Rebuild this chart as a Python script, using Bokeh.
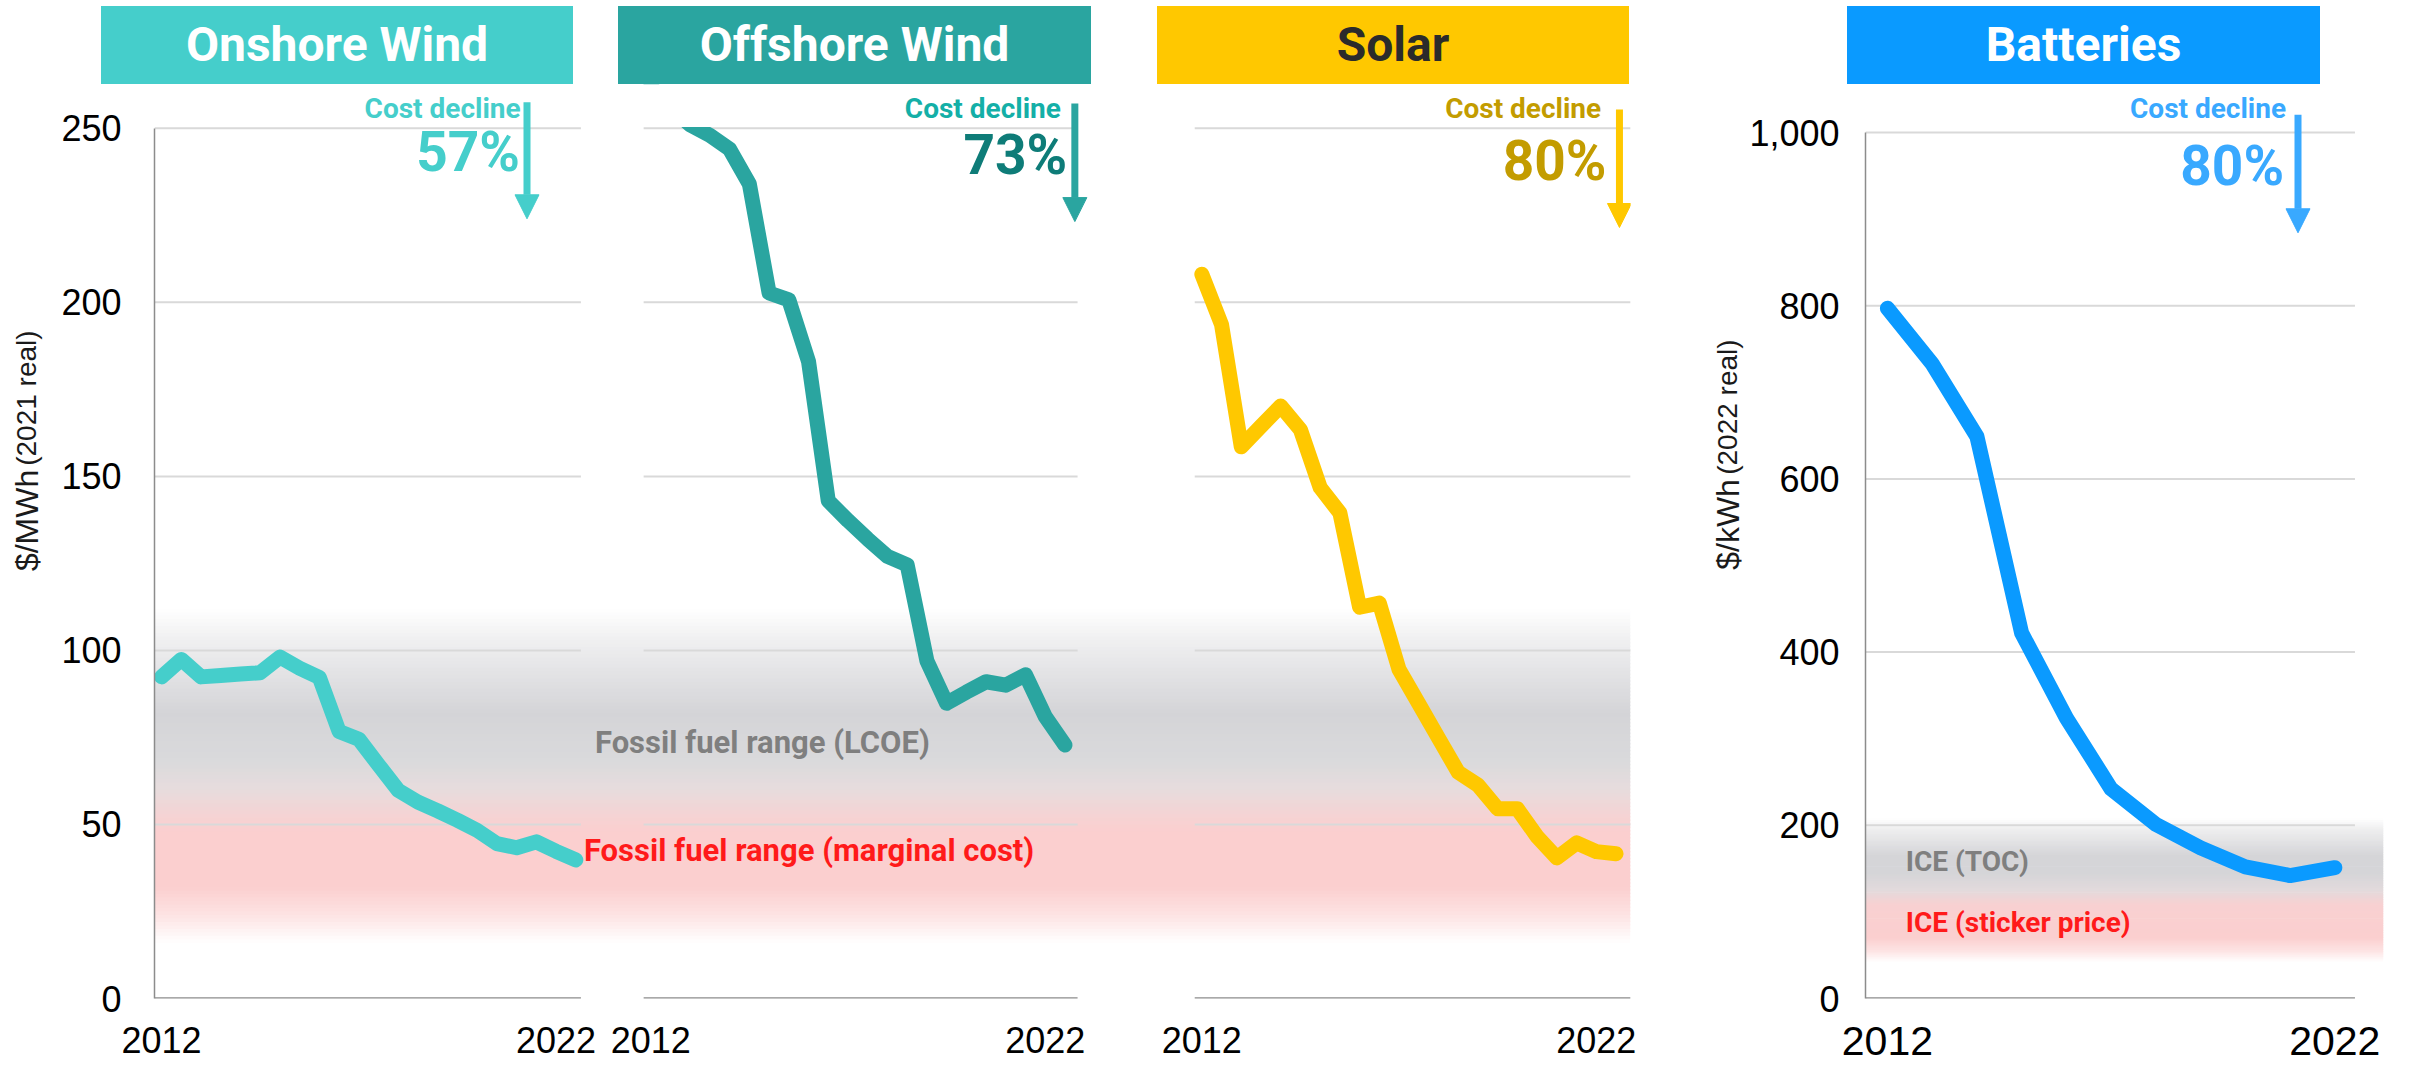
import numpy as np
from bokeh.plotting import figure
from bokeh.models import Label, Arrow, NormalHead, FixedTicker, NumeralTickFormatter, Div, Range1d
from bokeh.layouts import column, row
from bokeh.embed import file_html
from bokeh.resources import INLINE

# ---------------- data ----------------
periods = [2012.0, 2012.5, 2013.0, 2013.5, 2014.0, 2014.5, 2015.0, 2015.5, 2016.0, 2016.5,
           2017.0, 2017.5, 2018.0, 2018.5, 2019.0, 2019.5, 2020.0, 2020.5, 2021.0, 2021.5,
           2022.0, 2022.5]
onshore = [92.4, 97.4, 92.4, 92.8, 93.2, 93.6, 98.1, 94.9, 92.2, 76.7, 74.5, 67.1,
           59.8, 56.4, 53.9, 51.2, 48.3, 44.5, 43.3, 45.0, 42.3, 39.8]
offshore = [262.0, 256.0, 251.0, 248.0, 244.0, 234.0, 202.7, 200.7, 183.0, 143.0, 137.3, 132.0,
            127.0, 124.6, 97.0, 84.8, 88.0, 91.0, 90.0, 93.0, 81.0, 72.8]
solar = [208.1, 193.6, 158.5, 164.4, 170.2, 163.4, 146.8, 139.5, 112.4, 113.6, 94.5, 84.7,
         74.8, 65.0, 61.3, 54.5, 54.5, 46.5, 40.4, 44.7, 42.2, 41.6]
battery_years = [2012, 2013, 2014, 2015, 2016, 2017, 2018, 2019, 2020, 2021, 2022]
batteries = [797, 733, 649, 422, 324, 242, 201, 174, 152, 142, 151]

panel_names = ["Onshore Wind", "Offshore Wind", "Solar", "Batteries"]
cost_declines = ["57%", "73%", "80%", "80%"]
lcoe_ticks = [0, 50, 100, 150, 200, 250]
battery_ticks = [0, 200, 400, 600, 800, 1000]
x_tick_years = [2012, 2022]

# ---------------- styles ----------------
ON, OFF, SOL, BAT = "#45CECB", "#2AA5A0", "#FFC800", "#0A9AFF"
GRID = "#d9d9d9"
BASE = "#8c8c8c"
TICKFONT = "Liberation Sans"
ANNFONT = "Roboto"
LW = 15
TOP = 84                 # figures start right under the title boxes
FIG_H = 1066 - TOP
LCOE_UPP = 1 / 3.496     # data units per pixel, LCOE panels
BAT_UPP = 1 / 0.866      # data units per pixel, battery panel


def hex2rgb(h):
    return tuple(int(h[i:i + 2], 16) for i in (1, 3, 5))


def add_band(p, stops, left, right, step):
    stops = sorted(stops)
    xs = [s[0] for s in stops]
    rgb = np.array([hex2rgb(s[1]) for s in stops], dtype=float)
    bottoms = np.arange(xs[0], xs[-1], step)
    mids = bottoms + step / 2
    cols = []
    for m in mids:
        c = [int(round(np.interp(m, xs, rgb[:, k]))) for k in range(3)]
        cols.append("#%02x%02x%02x" % tuple(c))
    tops = np.minimum(bottoms + step * 1.4, xs[-1])
    p.quad(left=left, right=right, bottom=bottoms, top=tops, fill_color=cols,
           line_color=None)


def style_yaxis(p, ticks, font_size, standoff):
    ax = p.yaxis[0]
    ax.ticker = FixedTicker(ticks=ticks)
    ax.bounds = (ticks[0], ticks[-1])
    ax.major_tick_in = 0
    ax.major_tick_out = 0
    ax.minor_tick_in = 0
    ax.minor_tick_out = 0
    ax.major_tick_line_color = None
    ax.minor_tick_line_color = None
    ax.major_label_standoff = standoff
    ax.major_label_text_font = TICKFONT
    ax.major_label_text_font_size = font_size
    ax.major_label_text_color = "black"
    ax.axis_line_color = BASE
    ax.axis_line_width = 1.5


def style_xaxis(p, ticks, overrides, font_size, standoff):
    ax = p.xaxis[0]
    ax.ticker = FixedTicker(ticks=ticks)
    ax.major_label_overrides = overrides
    ax.axis_line_color = None
    ax.major_tick_line_color = None
    ax.minor_tick_line_color = None
    ax.major_tick_in = 0
    ax.major_tick_out = 0
    ax.minor_tick_in = 0
    ax.minor_tick_out = 0
    ax.major_label_standoff = standoff
    ax.major_label_text_font = TICKFONT
    ax.major_label_text_font_size = font_size
    ax.major_label_text_color = "black"


def lbl(p, x, y, text, color, size, align="left", bold=True, font=ANNFONT, angle=0,
        baseline="alphabetic", upp=None):
    # upp: data units per pixel; used to lift the text so its baseline sits at y
    if upp is not None:
        y = y + 0.33 * size * upp
    p.add_layout(Label(x=x, y=y, text=text, text_color=color, text_font=font,
                       text_font_size="%dpx" % size,
                       text_font_style="bold" if bold else "normal",
                       text_align=align, text_baseline=baseline, angle=angle,
                       angle_units="deg"))


def cost_arrow(p, x, y0, y1, color):
    p.add_layout(Arrow(end=NormalHead(size=24, fill_color=color, line_color=color, line_width=1),
                       x_start=x, y_start=y0, x_end=x, y_end=y1,
                       line_color=color, line_width=7))


def title_fig(width, x0, x1):
    f = figure(width=width, height=FIG_H, x_range=Range1d(x0, x1), y_range=Range1d(1066, TOP),
               output_backend="svg", toolbar_location=None, x_axis_location=None,
               y_axis_location=None, min_border=0, outline_line_color=None)
    f.xgrid.visible = False
    f.ygrid.visible = False
    return f


def vtitle(f, x, y_bottom, unit, note):
    # rotated two-part axis title: larger unit, smaller note, reading bottom to top
    unit_len = {"$/MWh": 3.167, "$/kWh": 2.834}[unit] * 32
    note_len = 4.835 * 28
    lbl(f, x, y_bottom - unit_len / 2, unit, "#1a1a1a", 32, align="center", bold=False,
        font=TICKFONT, angle=90, baseline="middle")
    lbl(f, x, y_bottom - unit_len - 13 - note_len / 2, note, "#1a1a1a", 28, align="center",
        bold=False, font=TICKFONT, angle=90, baseline="middle")


# ---------------- y-axis title for the LCOE panels ----------------
t1 = title_fig(58, 0, 58)
vtitle(t1, 26, 603.0, "$/MWh", "(2021 real)")

# ---------------- LCOE figure (three panels) ----------------
X0 = 2011.82
X1 = 2049.237
offsets = [0.0, 12.4, 26.37]
panel_len = [10.81, 11.0, 11.05]
YTOP = 250 + (128 - TOP) / 3.496
p = figure(width=1642, height=FIG_H, x_range=Range1d(X0, X1), y_range=Range1d(0, YTOP),
           output_backend="svg", toolbar_location=None, x_axis_location="below",
           y_axis_location="left", min_border_left=94, min_border_right=70,
           min_border_top=0, min_border_bottom=64, outline_line_color=None)
p.xgrid.visible = False
p.ygrid.visible = False
style_yaxis(p, lcoe_ticks, "36px", 33)
xt = [yr + off for off in offsets for yr in x_tick_years]
style_xaxis(p, xt, {v: str(yr) for v, yr in zip(xt, x_tick_years * 3)}, "36px", 28)

add_band(p, [(16, "#ffffff"), (24, "#fde3e3"), (32, "#fbcfcf"), (48, "#fbcfcf"),
             (53, "#f4d3d4"), (60, "#e7dcdd"), (68, "#dadadc"), (82, "#d4d4d7"),
             (95, "#e5e5e7"), (104, "#f1f1f2"), (112, "#ffffff")],
         X0, X1, 1.0)

# per-panel gridlines and baselines
for off, ln in zip(offsets, panel_len):
    gl = [t for t in lcoe_ticks if t > 0]
    p.segment(x0=[X0 + off] * len(gl), x1=[X0 + off + ln] * len(gl), y0=gl, y1=gl,
              line_color=GRID, line_width=2)
    p.segment(x0=[X0 + off], x1=[X0 + off + ln], y0=[0], y1=[0],
              line_color=BASE, line_width=2.5)

for vals, off, col in [(onshore, offsets[0], ON), (offshore, offsets[1], OFF),
                       (solar, offsets[2], SOL)]:
    p.line(x=[t + off for t in periods], y=vals, line_color=col, line_width=LW,
           line_cap="round", line_join="round")

# the offshore curve is cut at the top gridline, as in the original
p.quad(left=[X0 + offsets[1] - 0.5], right=[X0 + offsets[1] + 5.0], bottom=[250.35],
       top=[YTOP + 20], fill_color="white", line_color=None)

# cost decline annotations
ann = [  # arrow x, top, tip, text right, pct right, pct baseline, text colour, pct colour, arrow colour
    (2021.263, 257.5, 224.0, 2021.101, 2021.086, 238.0, ON, ON, ON),
    (2035.151, 257.1, 223.2, 2034.797, 2034.959, 237.0, "#14AFA7", "#0E7C78", OFF),
    (2048.957, 255.4, 221.5, 2048.494, 2048.629, 235.3, "#C39C00", "#C39C00", SOL),
]
for k, (axx, y0, y1, cdx, pcx, pcy, cdc, pcc, arc) in enumerate(ann):
    cost_arrow(p, axx, y0, y1, arc)
    lbl(p, cdx, 253.1, "Cost decline", cdc, 28, align="right", upp=LCOE_UPP)
    lbl(p, pcx, pcy, cost_declines[k], pcc, 55, align="right", upp=LCOE_UPP)

lbl(p, 2022.985, 70.65, "Fossil fuel range (LCOE)", "#7f7f7f", 31, upp=LCOE_UPP)
lbl(p, 2022.706, 39.7, "Fossil fuel range (marginal cost)", "#ff1a1a", 31, upp=LCOE_UPP)

# ---------------- y-axis title for batteries ----------------
t2 = title_fig(46, 1700, 1746)
vtitle(t2, 1727, 602.0, "$/kWh", "(2022 real)")

# ---------------- Batteries figure ----------------
BX0, BX1 = 2011.51, 2023.088
q = figure(width=664, height=FIG_H, x_range=Range1d(BX0, BX1),
           y_range=Range1d(0, (998 - TOP) / 0.866),
           output_backend="svg", toolbar_location=None, x_axis_location="below",
           y_axis_location="left", min_border_left=116, min_border_right=27,
           min_border_top=0, min_border_bottom=68, outline_line_color=None)
q.xgrid.visible = False
q.ygrid.visible = False
style_yaxis(q, battery_ticks, "36px", 26)
q.yaxis[0].formatter = NumeralTickFormatter(format="0,0")
style_xaxis(q, x_tick_years, {yr: str(yr) for yr in x_tick_years}, "41px", 28)

add_band(q, [(42, "#ffffff"), (55, "#fde3e3"), (70, "#fbcfcf"), (108, "#f8d0d1"),
             (125, "#e2dadc"), (145, "#d5d5d8"), (165, "#d5d5d8"), (195, "#eeeeef"),
             (208, "#ffffff")],
         BX0, BX1, 2.0)

gl = [t for t in battery_ticks if t > 0]
q.segment(x0=[BX0] * len(gl), x1=[2022.45] * len(gl), y0=gl, y1=gl, line_color=GRID,
          line_width=2)
q.segment(x0=[BX0], x1=[2022.45], y0=[0], y1=[0], line_color=BASE, line_width=2.5)

q.line(x=battery_years, y=batteries, line_color=BAT, line_width=LW, line_cap="round",
       line_join="round")

cost_arrow(q, 2021.177, 1020.4, 884.2, "#39A9FF")
lbl(q, 2020.91, 1016.97, "Cost decline", "#39A9FF", 28, align="right", upp=BAT_UPP)
lbl(q, 2020.866, 940.76, cost_declines[3], "#39A9FF", 55, align="right", upp=BAT_UPP)
lbl(q, 2012.41, 147.8, "ICE (TOC)", "#7f7f7f", 28, upp=BAT_UPP)
lbl(q, 2012.41, 76.6, "ICE (sticker price)", "#ff1a1a", 28, upp=BAT_UPP)

# ---------------- title boxes ----------------
boxes = [(101, 472, ON, "white"), (618, 473, OFF, "white"), (1157, 472, SOL, "#2b2b2b"),
         (1847, 473, BAT, "white")]
html = '<div style="position:relative;width:2410px;height:%dpx;">' % TOP
for (left, w, bg, fg), name in zip(boxes, panel_names):
    html += ('<div style="position:absolute;left:%dpx;top:6px;width:%dpx;height:78px;'
             'background:%s;color:%s;font-family:Roboto, sans-serif;font-weight:700;'
             'font-size:48px;line-height:78px;text-align:center;">%s</div>'
             % (left, w, bg, fg, name))
html += '</div>'
titles = Div(text=html, width=2410, height=TOP, margin=(0, 0, 0, 0))

layout = column(titles, row(t1, p, t2, q, spacing=0), spacing=0)
open("out.html", "w").write(file_html(layout, INLINE))
